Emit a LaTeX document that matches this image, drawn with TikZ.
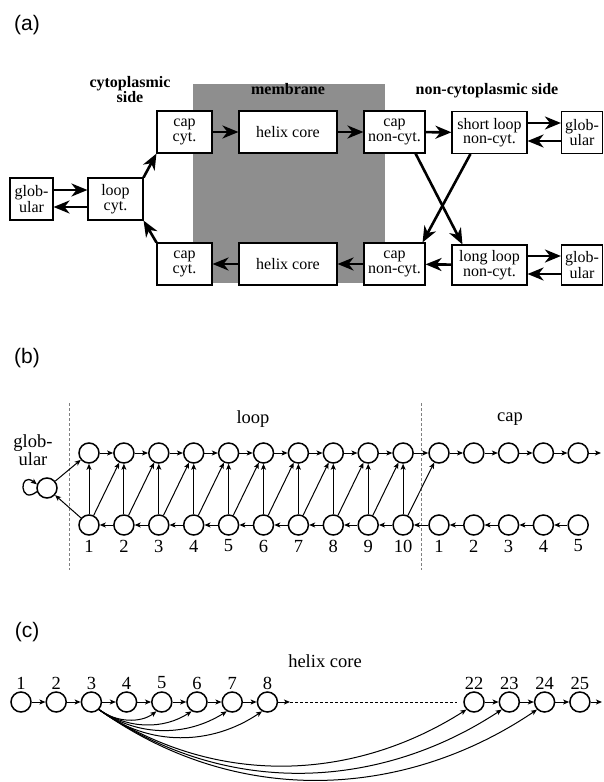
\documentclass[tikz,border=0pt]{standalone}
\usepackage{fontspec}
\setmainfont{Liberation Serif}
\newfontfamily\panelfont{Liberation Sans}
\usetikzlibrary{arrows.meta}
\definecolor{MembraneGray}{RGB}{142,142,142}
\tikzset{
  statebox/.style={draw,fill=white,line width=1.1pt,align=center,inner sep=1pt,minimum height=42pt,font=\fontsize{16}{14.5}\selectfont},
  bigarrow/.style={-{Stealth[length=16pt,width=13pt,inset=5pt]},line width=2.6pt},
  statenode/.style={circle,draw,line width=1.5pt,minimum size=20pt,inner sep=0pt},
  smallarrow/.style={-{Stealth[length=6pt,width=5pt,inset=1.5pt]},line width=1pt},
  sidelabel/.style={font=\bfseries\fontsize{16}{15}\selectfont,align=center},
  plainlabel/.style={font=\fontsize{18.5}{16}\selectfont,align=center,inner sep=0pt},
  panellabel/.style={font=\panelfont\fontsize{21}{24}\selectfont},
  dashline/.style={draw=gray,dash pattern=on 3pt off 2pt,line width=0.8pt},
  coredash/.style={draw=black,dash pattern=on 3pt off 2pt,line width=0.9pt}
}

\begin{document}
\begin{tikzpicture}[x=1pt,y=-1pt]
\useasboundingbox (0,0) rectangle (603,782);
% (a) state model
\node[panellabel] (pa) at (27,25) {(a)};
\fill[MembraneGray] (193,84) rectangle (385,283);
\node[sidelabel] (cytside) at (130,90) {cytoplasmic\\side};
\node[sidelabel] (memb) at (288,89) {membrane};
\node[sidelabel] (noncytside) at (487,91) {non-cytoplasmic side};

\node[statebox,minimum width=43pt] (globL) at (31.5,199) {glob-\\ular};
\node[statebox,minimum width=55pt] (loopcyt) at (115.5,199) {loop\\cyt.};
\node[statebox,minimum width=55pt] (capcytT) at (184.5,132) {cap\\cyt.};
\node[statebox,minimum width=98pt] (helixT) at (288,132) {helix core};
\node[statebox,minimum width=61pt] (capncT) at (394.5,132) {cap\\non-cyt.};
\node[statebox,minimum width=75pt] (shortnc) at (489.5,132.5) {short loop\\non-cyt.};
\node[statebox,minimum width=41pt] (globT) at (582,132.5) {glob-\\ular};
\node[statebox,minimum width=55pt] (capcytB) at (184.5,264) {cap\\cyt.};
\node[statebox,minimum width=98pt] (helixB) at (288,264) {helix core};
\node[statebox,minimum width=61pt] (capncB) at (394.5,264) {cap\\non-cyt.};
\node[statebox,minimum width=75pt,minimum height=40pt] (longnc) at (489.5,265) {long loop\\non-cyt.};
\node[statebox,minimum width=41pt,minimum height=40pt] (globB) at (582,265) {glob-\\ular};

\draw[bigarrow] ([yshift=9pt]globL.east) -- ([yshift=9pt]loopcyt.west);
\draw[bigarrow] ([yshift=-8pt]loopcyt.west) -- ([yshift=-8pt]globL.east);
\draw[bigarrow] (loopcyt.north east) -- (capcytT.south west);
\draw[bigarrow] (capcytB.north west) -- (loopcyt.south east);
\draw[bigarrow] (capcytT) -- (helixT);
\draw[bigarrow] (helixT) -- (capncT);
\draw[bigarrow] (capncT) -- (shortnc);
\draw[bigarrow] ([yshift=9.5pt]shortnc.east) -- ([yshift=9.5pt]globT.west);
\draw[bigarrow] ([yshift=-8.5pt]globT.west) -- ([yshift=-8.5pt]shortnc.east);
\draw[bigarrow] ([xshift=-10pt]capncT.south east) -- ([xshift=11pt]longnc.north west);
\draw[bigarrow] ([xshift=19pt]shortnc.south west) -- ([xshift=-3pt]capncB.north east);
\draw[bigarrow] (longnc) -- (capncB);
\draw[bigarrow] (capncB) -- (helixB);
\draw[bigarrow] (helixB) -- (capcytB);
\draw[bigarrow] ([yshift=9pt]longnc.east) -- ([yshift=9pt]globB.west);
\draw[bigarrow] ([yshift=-9pt]globB.west) -- ([yshift=-9pt]longnc.east);

% (b) loop and cap states
\node[panellabel] (pb) at (27,358) {(b)};
\draw[dashline] (69,403) -- (69,570);
\draw[dashline] (421,403) -- (421,570);
\node[plainlabel] (globtxt) at (33,450) {glob-\\ular};
\node[plainlabel] (looptxt) at (253,419) {loop};
\node[plainlabel] (captxt) at (510,419) {cap};
\node[statenode] (globc) at (47,488) {};
\foreach \i in {1,...,10}{
  \node[statenode] (lt\i) at ({89+34.9*(\i-1)},453) {};
  \node[statenode] (lb\i) at ({89+34.9*(\i-1)},525) {};
  \node[plainlabel] (ln\i) at ({89+34.9*(\i-1)},546) {\i};
}
\foreach \i in {1,...,5}{
  \node[statenode] (ct\i) at ({439+34.8*(\i-1)},453) {};
  \node[statenode] (cb\i) at ({439+34.8*(\i-1)},525) {};
  \node[plainlabel] (cn\i) at ({439+34.8*(\i-1)},546) {\i};
}
\foreach \i [evaluate=\i as \j using int(\i+1)] in {1,...,9}{
  \draw[smallarrow] (lt\i) -- (lt\j);
  \draw[smallarrow] (lb\j) -- (lb\i);
  \draw[smallarrow] (lb\i) -- (lt\i);
  \draw[smallarrow] (lb\i) -- (lt\j);
}
\draw[smallarrow] (lb10) -- (lt10);
\draw[smallarrow] (lb10) -- (ct1);
\draw[smallarrow] (lt10) -- (ct1);
\draw[smallarrow] (cb1) -- (lb10);
\foreach \i [evaluate=\i as \j using int(\i+1)] in {1,...,4}{
  \draw[smallarrow] (ct\i) -- (ct\j);
  \draw[smallarrow] (cb\j) -- (cb\i);
}
\coordinate (capout) at (601,453);
\draw[smallarrow] (ct5) -- (capout);
\draw[smallarrow] (globc) -- (lt1);
\draw[smallarrow] (lb1) -- (globc);
\draw[smallarrow,line width=1.3pt] (globc.200) .. controls +(-18,14) and +(-18,-14) .. (globc.160);

% (c) helix core states
\node[panellabel] (pc) at (27,632) {(c)};
\node[plainlabel] (helixtxt) at (325,661) {helix core};
\foreach \i in {1,...,8}{
  \node[statenode] (hc\i) at ({21+35.2*(\i-1)},702) {};
  \node[plainlabel] (hn\i) at ({21+35.2*(\i-1)},683) {\i};
}
\foreach \i in {22,...,25}{
  \node[statenode] (hc\i) at ({474+35.3*(\i-22)},702) {};
  \node[plainlabel] (hn\i) at ({474+35.3*(\i-22)},683) {\i};
}
\foreach \i [evaluate=\i as \j using int(\i+1)] in {1,...,7,22,23,24}{
  \draw[smallarrow] (hc\i) -- (hc\j);
}
\coordinate (gapstart) at (290,702);
\coordinate (gapend) at (457,702);
\coordinate (coreout) at (602,702);
\draw[smallarrow] (hc8) -- (gapstart);
\draw[coredash] (gapstart) -- (gapend);
\draw[smallarrow] (hc25) -- (coreout);
\draw[smallarrow] (hc3.-45) .. controls +(17,13) and +(-16,12) .. (hc5.-120);
\draw[smallarrow] (hc3.-45) .. controls +(30,20) and +(-28,18) .. (hc6.-120);
\draw[smallarrow] (hc3.-45) .. controls +(40,28) and +(-40,25) .. (hc7.-120);
\draw[smallarrow] (hc3.-45) .. controls +(50,38) and +(-50,34) .. (hc8.-120);
\draw[smallarrow] (hc3.-45) .. controls +(120,80) and +(-110,70) .. (hc22.-135);
\draw[smallarrow] (hc3.-45) .. controls +(130,90) and +(-120,79) .. (hc23.-135);
\draw[smallarrow] (hc3.-45) .. controls +(140,100) and +(-130,88) .. (hc24.-135);
\end{tikzpicture}
\end{document}
